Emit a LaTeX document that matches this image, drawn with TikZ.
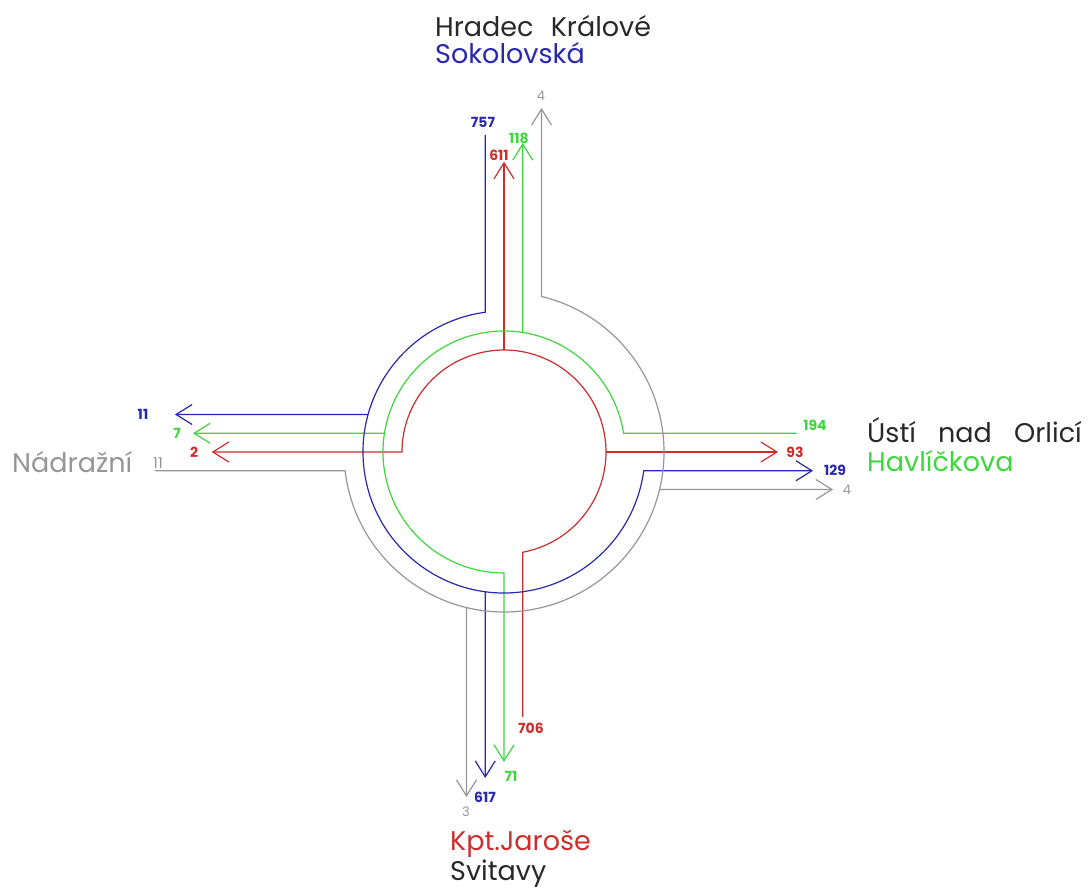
\documentclass[tikz,border=0pt]{standalone}
\usepackage{fontspec}
\setmainfont{Poppins}
\usetikzlibrary{arrows.meta,calc}
\definecolor{cblue}{RGB}{40,40,175}
\definecolor{cgreen}{RGB}{60,215,60}
\definecolor{cred}{RGB}{205,45,45}
\definecolor{cgray}{RGB}{150,150,150}
\definecolor{ctext}{RGB}{40,40,40}
\begin{document}
\begin{tikzpicture}[x=1pt,y=1pt,
  flow/.style={line width=1.2pt},
  arr/.style={-{Straight Barb[length=16pt,width=20pt,line width=1.2pt]}},
  num/.style={font=\fontsize{14}{14}\selectfont\bfseries, inner sep=0pt},
  gnum/.style={font=\fontsize{13}{13}\selectfont, inner sep=0pt, text=cgray},
  big/.style={font=\fontsize{27}{27}\selectfont, inner sep=0pt, anchor=base west}]
\useasboundingbox (0,0) rectangle (1088,-888);
\coordinate (C) at (504,-452);

% red (from Kpt.Jarose, bottom)
\coordinate (rIn) at (522.75,-717);
\coordinate (rEnt) at ($(C)+(-79.41:102)$);
\coordinate (rR) at ($(C)+(0:102)$);
\coordinate (rT) at ($(C)+(90:102)$);
\coordinate (rOutL) at (211.7,-452);
\coordinate (rOutR) at (778,-452);
\coordinate (rOutT) at (504,-161.7);
\draw[flow,cred,arr] (rIn) -- (rEnt) arc[start angle=-79.41,end angle=180,radius=102] -- (rOutL);
\draw[flow,cred,arr] (rR) -- (rOutR);
\draw[flow,cred,arr] (rT) -- (rOutT);

% green (from Havlickova, right)
\coordinate (gIn) at (796.7,-433.25);
\coordinate (gEnt) at ($(C)+(8.91:121)$);
\coordinate (gT) at ($(C)+(81.09:121)$);
\coordinate (gL) at ($(C)+(171.09:121)$);
\coordinate (gOutB) at (504,-762);
\coordinate (gOutT) at (522.75,-143);
\coordinate (gOutL) at (193,-433.25);
\draw[flow,cgreen,arr] (gIn) -- (gEnt) arc[start angle=8.91,end angle=270,radius=121] -- (gOutB);
\draw[flow,cgreen,arr] (gT) -- (gOutT);
\draw[flow,cgreen,arr] (gL) -- (gOutL);

% blue (from Sokolovska, top)
\coordinate (bIn) at (485.25,-135);
\coordinate (bEnt) at ($(C)+(97.64:141)$);
\coordinate (bL) at ($(C)+(164.58:141)$);
\coordinate (bB) at ($(C)+(262.36:141)$);
\coordinate (bOutR) at (813,-470.75);
\coordinate (bOutL) at (175,-414.5);
\coordinate (bOutB) at (485.25,-778);
\draw[flow,cblue,arr] (bIn) -- (bEnt) arc[start angle=97.64,end angle=352.36,radius=141] -- (bOutR);
\draw[flow,cblue,arr] (bL) -- (bOutL);
\draw[flow,cblue,arr] (bB) -- (bOutB);

% gray (from Nadrazni, left)
\coordinate (yIn) at (155,-470.75);
\coordinate (yEnt) at ($(C)+(-173.27:160)$);
\coordinate (yR) at ($(C)+(-13.55:160)$);
\coordinate (yB) at ($(C)+(-103.55:160)$);
\coordinate (yOutT) at (541.5,-108);
\coordinate (yOutR) at (833,-489.5);
\coordinate (yOutB) at (466.5,-797);
\draw[flow,cgray,arr] (yIn) -- (yEnt) arc[start angle=-173.27,end angle=76.45,radius=160] -- (yOutT);
\draw[flow,cgray,arr] (yR) -- (yOutR);
\draw[flow,cgray,arr] (yB) -- (yOutB);

% numbers
\node[num,text=cred] (n706) at (531,-728) {706};
\node[num,text=cred] (n611) at (499,-155) {611};
\node[num,text=cred] (n93) at (795,-452) {93};
\node[num,text=cred] (n2) at (194,-452) {2};
\node[num,text=cgreen] (n194) at (815,-425) {194};
\node[num,text=cgreen] (n118) at (519,-138) {118};
\node[num,text=cgreen] (n7) at (177,-433) {7};
\node[num,text=cgreen] (n71) at (511,-776) {71};
\node[num,text=cblue] (n757) at (483,-122) {757};
\node[num,text=cblue] (n11) at (143,-414) {11};
\node[num,text=cblue] (n129) at (835,-470) {129};
\node[num,text=cblue] (n617) at (485,-797) {617};
\node[gnum] (g4t) at (541,-96) {4};
\node[gnum] (g4r) at (847,-490) {4};
\node[gnum] (g3) at (466,-812) {3};
\node[gnum,font=\fontsize{15}{15}\selectfont] (g11) at (158,-463) {11};

% street names
\node[big,text=ctext] (hk) at (435,-37) {Hradec\hspace{10pt} Králové};
\node[big,text=cblue] (sok) at (435,-64) {Sokolovská};
\node[big,text=ctext] (uo) at (867,-442) {Ústí\hspace{15pt} nad\hspace{15pt} Orlicí};
\node[big,text=cgreen] (hav) at (867,-471) {Havlíčkova};
\node[big,text=cred] (kpt) at (450,-850) {Kpt.Jaroše};
\node[big,text=ctext] (svi) at (450,-880) {Svitavy};
\node[big,text=cgray] (nad) at (12,-472) {Nádražní};
\end{tikzpicture}
\end{document}
